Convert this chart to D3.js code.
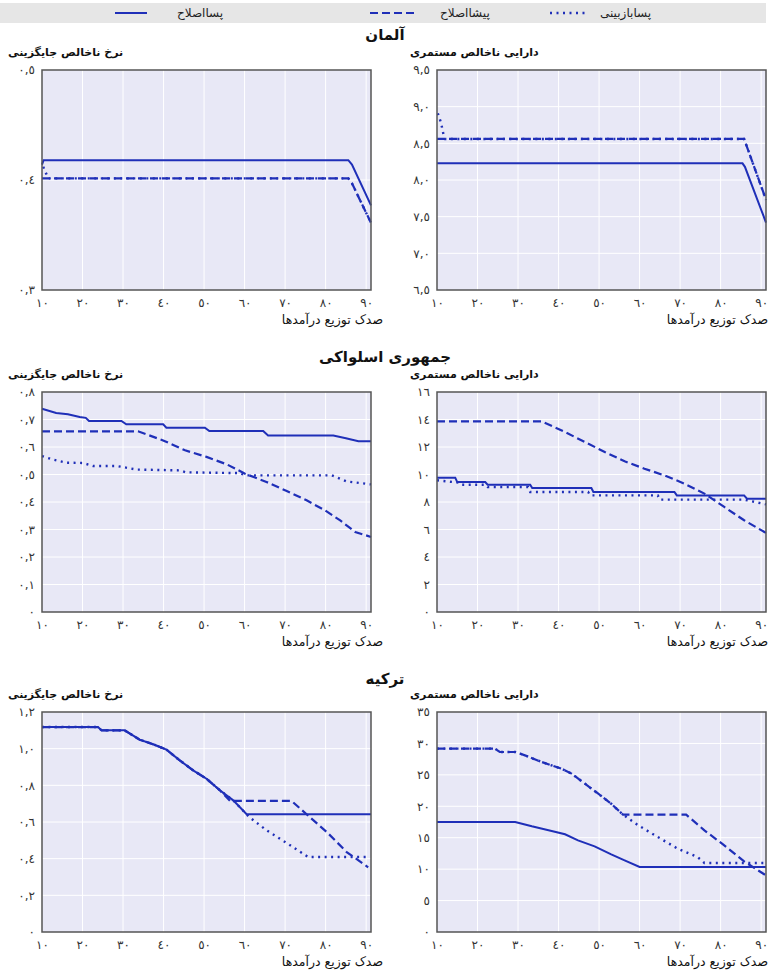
<!DOCTYPE html>
<html>
<head>
<meta charset="utf-8">
<script src="https://cdn.jsdelivr.net/npm/d3@7"></script>
<style>
  body { margin: 0; background: #fff; }
  text { font-family: "DejaVu Sans", sans-serif; }
</style>
</head>
<body>
<script>
'use strict';

// series names (legend)
const seriesNames = ['پسااصلاح', 'پیشااصلاح', 'پسابازبینی'];
const countries = ['آلمان', 'جمهوری اسلواکی', 'ترکیه'];
const rateTitle = 'نرخ ناخالص جایگزینی';
const wealthTitle = 'دارایی ناخالص مستمری';
const xTitle = 'صدک توزیع درآمدها';

// x axis: income percentile
const xTicks = [10, 20, 30, 40, 50, 60, 70, 80, 90];
const xTickLabels = ['١٠', '٢٠', '٣٠', '٤٠', '٥٠', '٦٠', '٧٠', '٨٠', '٩٠'];

// y ticks per panel
const deRateTicks = [0.3, 0.4, 0.5];
const deRateLabels = ['٠,٣', '٠,٤', '٠,٥'];
const deWealthTicks = [6.5, 7, 7.5, 8, 8.5, 9, 9.5];
const deWealthLabels = ['٦,٥', '٧,٠', '٧,٥', '٨,٠', '٨,٥', '٩,٠', '٩,٥'];
const skRateTicks = [0, 0.1, 0.2, 0.3, 0.4, 0.5, 0.6, 0.7, 0.8];
const skRateLabels = ['٠', '٠,١', '٠,٢', '٠,٣', '٠,٤', '٠,٥', '٠,٦', '٠,٧', '٠,٨'];
const skWealthTicks = [0, 2, 4, 6, 8, 10, 12, 14, 16];
const skWealthLabels = ['٠', '٢', '٤', '٦', '٨', '١٠', '١٢', '١٤', '١٦'];
const trRateTicks = [0, 0.2, 0.4, 0.6, 0.8, 1.0, 1.2];
const trRateLabels = ['٠', '٠,٢', '٠,٤', '٠,٦', '٠,٨', '١,٠', '١,٢'];
const trWealthTicks = [0, 5, 10, 15, 20, 25, 30, 35];
const trWealthLabels = ['٠', '٥', '١٠', '١٥', '٢٠', '٢٥', '٣٠', '٣٥'];

// Germany  [percentile, value]
const deRatePost = [[10,0.414],[10.4,0.418],[85.6,0.418],[86.5,0.414],[91.2,0.377]];
const deRatePre = [[10,0.4015],[85.6,0.4015],[86.5,0.397],[91.2,0.361]];
const deRateRev = [[10.3,0.412],[11,0.406],[11.6,0.4015],[85.6,0.4015],[86.5,0.397],[91.2,0.361]];
const deWealthPost = [[10,8.227],[85.4,8.227],[86,8.18],[91.2,7.42]];
const deWealthPre = [[10,8.56],[85.8,8.56],[91.2,7.73]];
const deWealthRev = [[10.2,8.91],[11,8.78],[11.6,8.62],[12,8.56],[85.8,8.56],[91.2,7.73]];

// Slovak Republic
const skRatePost = [[10,0.739],[13.5,0.724],[16.4,0.719],[19.3,0.709],[20.8,0.706],[21.6,0.6945],[29.6,0.6945],
  [30.8,0.6824],[39.9,0.6824],[40.7,0.670],[50.2,0.670],[51.3,0.658],[64.6,0.658],[65.8,0.642],[81.9,0.642],
  [85,0.632],[88.1,0.621],[91.2,0.621]];
const skRatePre = [[10,0.657],[33.7,0.657],[39.9,0.624],[45.3,0.588],[50.6,0.564],[55.6,0.537],[60.1,0.503],
  [65.4,0.473],[70.4,0.44],[75.3,0.406],[79.8,0.37],[83.6,0.333],[87.3,0.291],[91.2,0.273]];
const skRateRev = [[10,0.567],[12.5,0.555],[16,0.543],[20.1,0.542],[22.6,0.531],[28.4,0.531],[30,0.527],
  [33.3,0.518],[44,0.515],[45.5,0.508],[59,0.505],[60,0.497],[81.5,0.497],[85.2,0.475],[91.2,0.464]];
const skWealthPost = [[10,9.77],[14.5,9.77],[15,9.45],[21.9,9.45],[22.5,9.26],[33,9.26],[33.5,9.02],[48.1,9.02],
  [48.6,8.73],[68.6,8.73],[69.2,8.48],[85.8,8.48],[86.5,8.24],[91.2,8.24]];
const skWealthPre = [[10,13.87],[35.8,13.87],[41.6,13.09],[46.5,12.36],[51.4,11.64],[56.3,10.96],[61.2,10.42],
  [66.1,9.94],[71.1,9.33],[76,8.61],[80.9,7.64],[85.8,6.67],[91.2,5.75]];
const skWealthRev = [[10,9.58],[15.5,9.4],[16.1,9.26],[21.9,9.26],[22.5,9.09],[32.5,9.09],[33,8.73],[47.3,8.73],
  [47.8,8.48],[64.5,8.48],[65,8.17],[85.8,8.17],[91.2,7.83]];

// Turkey
const trRatePost = [[10,1.118],[23.8,1.118],[24.7,1.1],[30.4,1.1],[34.1,1.049],[37.4,1.024],[40.7,0.995],
  [44,0.936],[47.3,0.882],[50.6,0.836],[53.9,0.773],[57.2,0.718],[60.5,0.642],[91.2,0.642]];
const trRatePre = [[10,1.118],[23.8,1.118],[24.7,1.1],[30.4,1.1],[34.1,1.049],[37.4,1.024],[40.7,0.995],
  [44,0.936],[47.3,0.882],[50.6,0.836],[53.9,0.773],[56.4,0.715],[71.6,0.715],[75.3,0.642],[80.3,0.545],
  [85.2,0.436],[90.5,0.353]];
const trRateRev = [[10,1.118],[23.8,1.118],[24.7,1.1],[30.4,1.1],[34.1,1.049],[37.4,1.024],[40.7,0.995],
  [44,0.936],[47.3,0.882],[50.6,0.836],[53.9,0.773],[57.2,0.718],[60.5,0.642],[61,0.63],[65.4,0.555],
  [70.4,0.485],[75.7,0.409],[90.5,0.409]];
const trWealthPost = [[10,17.5],[29.3,17.5],[33.4,16.81],[38.3,16.07],[41.6,15.54],[44.8,14.58],[48.9,13.63],
  [53,12.36],[56.3,11.4],[60,10.34],[91.2,10.34]];
const trWealthPre = [[10,29.17],[24.3,29.17],[25.5,28.64],[29.3,28.64],[31.7,28.1],[35.8,27.05],[40.7,25.98],
  [43.2,25.2],[46.5,23.6],[49.8,22.0],[53,20.4],[55.9,18.67],[71.5,18.67],[76,16.17],[80.9,13.79],
  [85.8,11.24],[91.2,9.0]];
const trWealthRev = [[10,29.17],[24.3,29.17],[25.5,28.64],[29.3,28.64],[31.7,28.1],[35.8,27.05],[40.7,25.98],
  [43.2,25.2],[46.5,23.6],[49.8,22.0],[53,20.4],[55.9,18.67],[59.6,17.0],[64.5,15.11],[69.4,13.26],
  [74.3,11.93],[76,10.98],[91.2,10.98]];

const blue = '#1f2fb8';
const styles = [
  { width: 2, dash: null },      // post-reform
  { width: 2.2, dash: '8,4' },   // pre-reform
  { width: 2.4, dash: '2,4.5' }  // post-review
];

const width = 770, height = 975;
const plotW = 329, plotH = 220;
const colLeft = [42, 437];
const subtitleX = [8, 410];
const xTitleRight = [383, 768];
const rowTop = [70, 392, 712];
const countryY = [40, 362, 684];
const xDomain = [10, 91.2];

const panels = [
  { row: 0, col: 0, title: rateTitle, dom: [0.3, 0.5], ticks: deRateTicks, labels: deRateLabels, series: [deRatePost, deRatePre, deRateRev] },
  { row: 0, col: 1, title: wealthTitle, dom: [6.5, 9.5], ticks: deWealthTicks, labels: deWealthLabels, series: [deWealthPost, deWealthPre, deWealthRev] },
  { row: 1, col: 0, title: rateTitle, dom: [0, 0.8], ticks: skRateTicks, labels: skRateLabels, series: [skRatePost, skRatePre, skRateRev] },
  { row: 1, col: 1, title: wealthTitle, dom: [0, 16], ticks: skWealthTicks, labels: skWealthLabels, series: [skWealthPost, skWealthPre, skWealthRev] },
  { row: 2, col: 0, title: rateTitle, dom: [0, 1.2], ticks: trRateTicks, labels: trRateLabels, series: [trRatePost, trRatePre, trRateRev] },
  { row: 2, col: 1, title: wealthTitle, dom: [0, 35], ticks: trWealthTicks, labels: trWealthLabels, series: [trWealthPost, trWealthPre, trWealthRev] }
];

const svg = d3.select('body').append('svg')
  .attr('width', width)
  .attr('height', height);

// legend band
svg.append('rect')
  .attr('x', 0).attr('y', 3)
  .attr('width', 766).attr('height', 20)
  .attr('fill', '#e6e6e6');

const legendSym = [115, 370, 550];
const legendSymW = [32, 44, 38];
const legendText = [177, 440, 600];
seriesNames.forEach((name, i) => {
  svg.append('line')
    .attr('x1', legendSym[i]).attr('x2', legendSym[i] + legendSymW[i])
    .attr('y1', 13).attr('y2', 13)
    .attr('stroke', blue)
    .attr('stroke-width', styles[i].width)
    .attr('stroke-dasharray', styles[i].dash);
  svg.append('text')
    .attr('x', legendText[i]).attr('y', 17)
    .style('font-size', '12px')
    .attr('fill', '#222')
    .text(name);
});

// country titles
countries.forEach((c, i) => {
  svg.append('text')
    .attr('x', 385).attr('y', countryY[i])
    .attr('text-anchor', 'middle')
    .style('font-size', '15px')
    .style('font-weight', 'bold')
    .attr('fill', '#111')
    .text(c);
});

panels.forEach(drawPanel);

function drawPanel(p) {
  const left = colLeft[p.col];
  const top = rowTop[p.row];
  const g = svg.append('g');

  const x = d3.scaleLinear().domain(xDomain).range([left, left + plotW]);
  const y = d3.scaleLinear().domain(p.dom).range([top + plotH, top]);

  g.append('rect')
    .attr('x', left).attr('y', top)
    .attr('width', plotW).attr('height', plotH)
    .attr('fill', '#e8e8f6');

  // grid
  g.selectAll('.vgrid')
    .data(xTicks.slice(1))
    .enter().append('line')
    .attr('x1', d => x(d)).attr('x2', d => x(d))
    .attr('y1', top).attr('y2', top + plotH)
    .attr('stroke', '#fff').attr('stroke-width', 1);
  g.selectAll('.hgrid')
    .data(p.ticks.slice(1, -1))
    .enter().append('line')
    .attr('x1', left).attr('x2', left + plotW)
    .attr('y1', d => y(d)).attr('y2', d => y(d))
    .attr('stroke', '#fff').attr('stroke-width', 1);

  // axes
  const yAxis = d3.axisLeft(y)
    .tickValues(p.ticks)
    .tickFormat((d, i) => p.labels[i])
    .tickSize(0)
    .tickPadding(7);
  const ya = g.append('g').attr('transform', 'translate(' + left + ',0)').call(yAxis);
  ya.select('.domain').remove();
  ya.selectAll('text').style('font-size', '12px').attr('fill', '#333')
    .style('font-family', '"DejaVu Sans", sans-serif');

  const xAxis = d3.axisBottom(x)
    .tickValues(xTicks)
    .tickFormat((d, i) => xTickLabels[i])
    .tickSize(0)
    .tickPadding(8);
  const xa = g.append('g').attr('transform', 'translate(0,' + (top + plotH) + ')').call(xAxis);
  xa.select('.domain').remove();
  xa.selectAll('text').style('font-size', '12px').attr('fill', '#333')
    .style('font-family', '"DejaVu Sans", sans-serif');

  // lines: dotted, dashed, then solid on top
  const line = d3.line()
    .x(d => x(d[0]))
    .y(d => y(d[1]));
  [2, 1, 0].forEach(k => {
    g.append('path')
      .datum(p.series[k])
      .attr('d', line)
      .attr('fill', 'none')
      .attr('stroke', blue)
      .attr('stroke-width', styles[k].width)
      .attr('stroke-dasharray', styles[k].dash);
  });

  // frame
  g.append('rect')
    .attr('x', left).attr('y', top)
    .attr('width', plotW).attr('height', plotH)
    .attr('fill', 'none')
    .attr('stroke', '#555')
    .attr('stroke-width', 1.5);

  // titles
  g.append('text')
    .attr('x', subtitleX[p.col]).attr('y', top - 14)
    .style('font-size', '11px')
    .style('font-weight', 'bold')
    .attr('fill', '#111')
    .text(p.title);

  g.append('text')
    .attr('x', xTitleRight[p.col]).attr('y', top + plotH + 34)
    .attr('text-anchor', 'end')
    .style('font-size', '12.5px')
    .attr('fill', '#111')
    .text(xTitle);
}
</script>
</body>
</html>
